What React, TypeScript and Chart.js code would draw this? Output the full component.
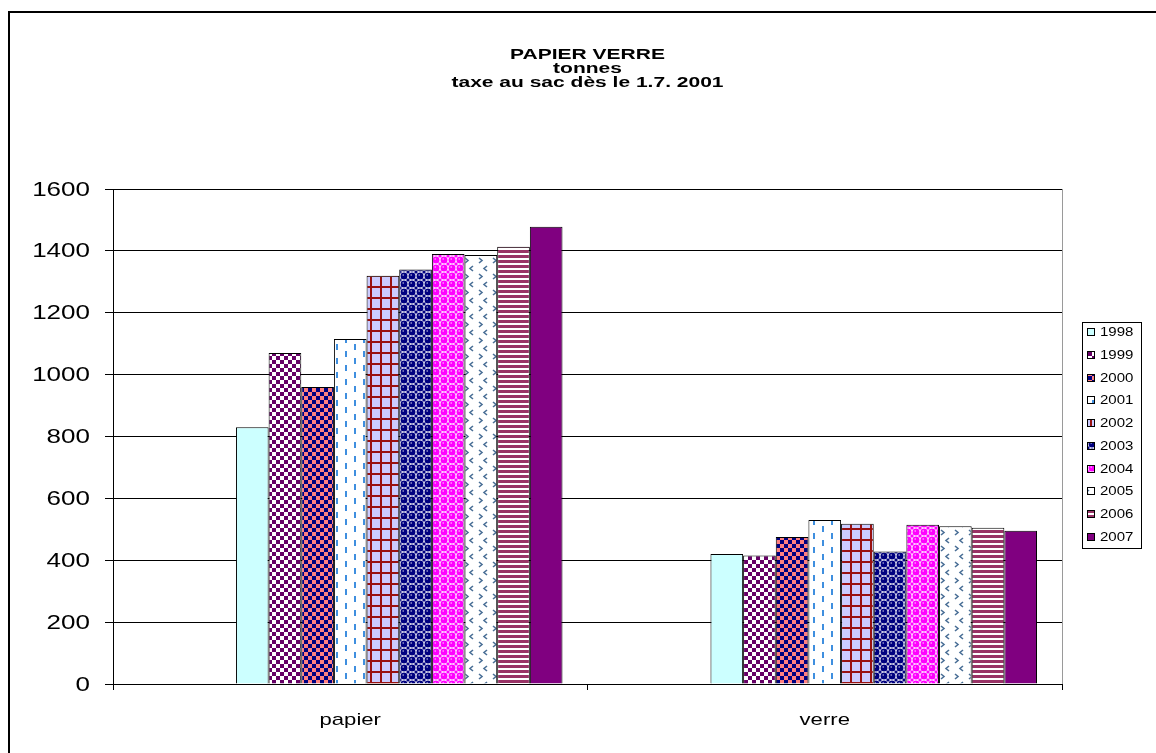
import React, { useEffect, useRef } from "react";
import { Chart, registerables } from "chart.js";

Chart.register(...registerables);

// ---- data ----
const categories = ["papier", "verre"];
const years = ["1998", "1999", "2000", "2001", "2002", "2003", "2004", "2005", "2006", "2007"];
const papierValues = [830, 1070, 960, 1115, 1320, 1340, 1390, 1387, 1413, 1478];
const verreValues = [420, 415, 475, 530, 518, 428, 515, 510, 505, 495];
// empty series slots that precede 1998 in the source chart (no data, not in legend)
const emptySlots = ["", "", ""];
const yMin = 0;
const yMax = 1600;
const yStep = 200;
const titleLines = ["PAPIER VERRE", "tonnes", "taxe au sac dès le 1.7. 2001"];

const W = 1156;
const H = 753;
const FONT = '"Liberation Sans", Arial, sans-serif';

type Fill = string | CanvasPattern;

function tile(w: number, h: number, draw: (c: CanvasRenderingContext2D) => void): CanvasPattern {
  const cv = document.createElement("canvas");
  cv.width = w;
  cv.height = h;
  const c = cv.getContext("2d")!;
  draw(c);
  return c.createPattern(cv, "repeat")!;
}

function checker(a: string, b: string, cell: number) {
  return tile(cell * 2, cell * 2, (c) => {
    c.fillStyle = b;
    c.fillRect(0, 0, cell * 2, cell * 2);
    c.fillStyle = a;
    c.fillRect(0, 0, cell, cell);
    c.fillRect(cell, cell, cell, cell);
  });
}

function spheres(col: string) {
  return tile(8, 8, (c) => {
    c.fillStyle = "#ffffff";
    c.fillRect(0, 0, 8, 8);
    c.fillStyle = col;
    c.beginPath();
    c.arc(4, 4, 3.5, 0, Math.PI * 2);
    c.fill();
    c.fillRect(0, 0, 1.5, 1.5);
    c.fillRect(6.5, 0, 1.5, 1.5);
    c.fillRect(0, 6.5, 1.5, 1.5);
    c.fillRect(6.5, 6.5, 1.5, 1.5);
    c.fillStyle = "rgba(255,255,255,0.85)";
    c.fillRect(2.5, 2.5, 1.5, 1);
  });
}

function makeFills(): Fill[] {
  return [
    "#CCFFFF",
    checker("#660066", "#ffffff", 4),
    checker("#000080", "#FF8080", 4),
    tile(18, 14, (c) => {
      c.fillStyle = "#ffffff";
      c.fillRect(0, 0, 18, 14);
      c.fillStyle = "#3f8fdf";
      c.fillRect(3, 1, 2, 6);
      c.fillRect(12, 8, 2, 6);
    }),
    tile(10, 11, (c) => {
      c.fillStyle = "#CCCCFF";
      c.fillRect(0, 0, 10, 11);
      c.fillStyle = "#991111";
      c.fillRect(0, 0, 2, 11);
      c.fillRect(0, 0, 10, 2);
    }),
    spheres("#000080"),
    spheres("#FF00FF"),
    tile(14, 16, (c) => {
      c.fillStyle = "#ffffff";
      c.fillRect(0, 0, 14, 16);
      c.strokeStyle = "#4a6f96";
      c.lineWidth = 1.6;
      c.beginPath();
      c.moveTo(3, 2);
      c.lineTo(6, 4.5);
      c.lineTo(3, 7);
      c.moveTo(11, 10);
      c.lineTo(8, 12.5);
      c.lineTo(11, 15);
      c.stroke();
    }),
    tile(4, 5, (c) => {
      c.fillStyle = "#ffffff";
      c.fillRect(0, 0, 4, 5);
      c.fillStyle = "#993366";
      c.fillRect(0, 0, 4, 3);
    }),
    "#800080",
  ];
}

function stretchedText(
  c: CanvasRenderingContext2D,
  text: string,
  x: number,
  y: number,
  align: CanvasTextAlign,
  font: string,
  sx: number
) {
  c.save();
  c.translate(x, y);
  c.scale(sx, 1);
  c.font = font;
  c.textAlign = align;
  c.textBaseline = "middle";
  c.fillStyle = "#000";
  c.fillText(text, 0, 0);
  c.restore();
}

export default function App() {
  const ref = useRef<HTMLCanvasElement | null>(null);

  useEffect(() => {
    const canvas = ref.current;
    if (!canvas) return;
    const fills = makeFills();

    const decor = {
      id: "decor",
      beforeDraw(chart: any) {
        const c = chart.ctx as CanvasRenderingContext2D;
        c.save();
        c.fillStyle = "#ffffff";
        c.fillRect(0, 0, W, H);
        c.fillStyle = "#000000";
        c.fillRect(8, 11, 2, H);
        c.fillRect(8, 11, W, 2);
        c.restore();
      },
      afterDraw(chart: any) {
        const c = chart.ctx as CanvasRenderingContext2D;
        const a = chart.chartArea;
        c.save();
        // plot area right edge
        c.strokeStyle = "#9a9a9a";
        c.lineWidth = 1;
        c.beginPath();
        c.moveTo(Math.round(a.right) + 0.5, a.top);
        c.lineTo(Math.round(a.right) + 0.5, a.bottom);
        c.stroke();

        // y tick labels
        const ys = chart.scales.y;
        ys.ticks.forEach((t: any) => {
          const py = ys.getPixelForValue(t.value);
          stretchedText(c, String(t.value), 90, py + 1, "right", `20px ${FONT}`, 1.3);
        });
        // x tick labels
        const xs = chart.scales.x;
        categories.forEach((lab, i) => {
          stretchedText(c, lab, xs.getPixelForValue(i), 720, "center", `17px ${FONT}`, 1.3);
        });

        // title
        const cx = (a.left + a.right) / 2;
        titleLines.forEach((t, i) => stretchedText(c, t, cx, 54.5 + i * 14, "center", `bold 15px ${FONT}`, 1.4));

        // legend
        const lx = 1082;
        const lr = 1141;
        const top = 322;
        const bottom = 548;
        c.strokeStyle = "#000";
        c.lineWidth = 1;
        c.strokeRect(lx + 0.5, top + 0.5, lr - lx, bottom - top);
        const ds = chart.data.datasets.filter((d: any) => d.label);
        ds.forEach((d: any, i: number) => {
          const y = Math.round(332 + i * 22.75);
          c.fillStyle = d.backgroundColor;
          c.fillRect(1087, y - 4, 8, 8);
          c.lineWidth = 1;
          c.strokeStyle = "#000";
          c.strokeRect(1087.5, y - 3.5, 7, 7);
          stretchedText(c, d.label, 1100, y + 0.5, "left", `12px ${FONT}`, 1.25);
        });
        c.restore();
      },
    };

    const placeholder = emptySlots.map((lab) => ({
      label: lab,
      data: categories.map(() => null),
      backgroundColor: "rgba(0,0,0,0)",
      borderWidth: 0,
      barPercentage: 1,
      categoryPercentage: 0.8946,
    }));

    const datasets = years.map((yr, i) => ({
      label: yr,
      data: [papierValues[i], verreValues[i]],
      backgroundColor: fills[i] as any,
      borderColor: "#000000",
      borderWidth: 1,
      barPercentage: 1,
      categoryPercentage: 0.8946,
    }));

    const chart = new Chart(canvas, {
      type: "bar",
      data: { labels: categories, datasets: [...placeholder, ...datasets] },
      options: {
        animation: false,
        responsive: false,
        devicePixelRatio: 1,
        events: [],
        layout: { padding: { top: 189, right: W - 1062, bottom: 0, left: 0 } },
        plugins: { legend: { display: false }, title: { display: false }, tooltip: { enabled: false } },
        scales: {
          x: {
            type: "category",
            offset: true,
            grid: { offset: true, drawOnChartArea: false, drawTicks: true, tickLength: 6, color: "#000" },
            border: { display: true, color: "#000", width: 1 },
            ticks: { display: false },
            afterFit: (s: any) => {
              s.height = H - 684;
            },
          },
          y: {
            min: yMin,
            max: yMax,
            ticks: { stepSize: yStep, display: false },
            grid: { color: "#000", lineWidth: 1, tickLength: 8, drawTicks: true },
            border: { display: true, color: "#000", width: 1 },
            afterFit: (s: any) => {
              s.width = 113;
            },
          },
        },
      },
      plugins: [decor],
    } as any);

    return () => chart.destroy();
  }, []);

  return (
    <div style={{ position: "fixed", left: 0, top: 0, width: W, height: H, background: "#fff" }}>
      <canvas ref={ref} width={W} height={H} style={{ display: "block", width: W + "px", height: H + "px" }} />
    </div>
  );
}
